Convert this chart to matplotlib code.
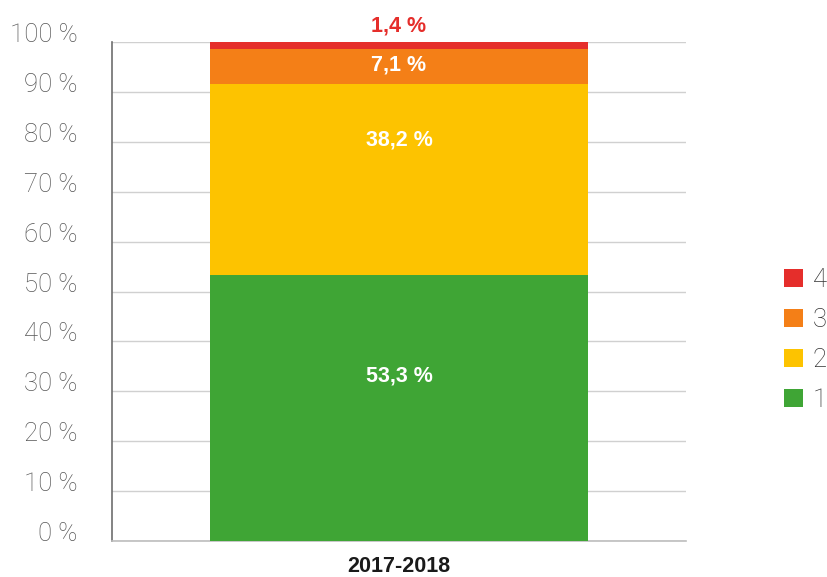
import matplotlib
matplotlib.use("Agg")
import matplotlib.pyplot as plt
from matplotlib.patches import Patch

# Data
season = "2017-2018"
levels = ["1", "2", "3", "4"]
shares = [53.3, 38.2, 7.1, 1.4]
colors = ["#3fa535", "#fdc300", "#f47f17", "#e52e2b"]
label_colors = ["white", "white", "white", "#e52e2b"]
# vertical placement of each value label within/above its segment (fraction of segment height)
label_frac = [0.62, 0.71, 0.55, 3.3]
yticks = list(range(0, 101, 10))
ytick_labels = [f"{t} %" for t in yticks]

plt.rcParams["font.family"] = ["Liberation Sans", "DejaVu Sans"]

fig = plt.figure(figsize=(8.27, 5.77), dpi=100)
ax = fig.add_axes([112 / 827, 36 / 577, 574 / 827, 499 / 577])

bottom = 0.0
for val, col, lcol, frac in zip(shares, colors, label_colors, label_frac):
    ax.bar(0, val, bottom=bottom, width=0.6585, color=col, zorder=3)
    ax.text(0.0, bottom + frac * val, f"{val:.1f} %".replace(".", ","),
            ha="center", va="center", color=lcol, fontsize=15.5, fontweight="bold",
            zorder=4)
    bottom += val

ax.set_xlim(-0.5, 0.5)
ax.set_ylim(0, 100)
ax.set_yticks(yticks)
ax.set_yticklabels(ytick_labels, fontsize=18.5, color="#575757",
                   family=["Roboto", "DejaVu Sans"], fontweight="light")
for lbl in ax.get_yticklabels():
    lbl.set_verticalalignment("baseline")
ax.tick_params(axis="y", length=0, pad=25)
ax.set_xticks([0])
ax.set_xticklabels([season], fontsize=15.5, fontweight="bold", color="#1a1a1a")
ax.tick_params(axis="x", length=0, pad=11)

ax.grid(axis="y", color="#d0d0d0", linewidth=1.0, zorder=0)
for s in ["top", "right"]:
    ax.spines[s].set_visible(False)
ax.spines["left"].set_color("#6e6e6e")
ax.spines["left"].set_linewidth(1.2)
ax.spines["bottom"].set_color("#bdbdbd")
ax.spines["bottom"].set_linewidth(1.2)

handles = [Patch(facecolor=c, edgecolor="none") for c in colors]
leg = fig.legend(handles[::-1], levels[::-1], loc="center left",
                 bbox_to_anchor=(784 / 827, 1 - 340 / 577), frameon=False,
                 prop={"family": ["Roboto", "DejaVu Sans"], "weight": "light",
                       "size": 18.5},
                 handlelength=0.72, handleheight=0.72,
                 handletextpad=0.4, labelspacing=0.62, borderaxespad=0,
                 borderpad=0)
for t in leg.get_texts():
    t.set_color("#333333")

fig.savefig("out.png", dpi=100)
